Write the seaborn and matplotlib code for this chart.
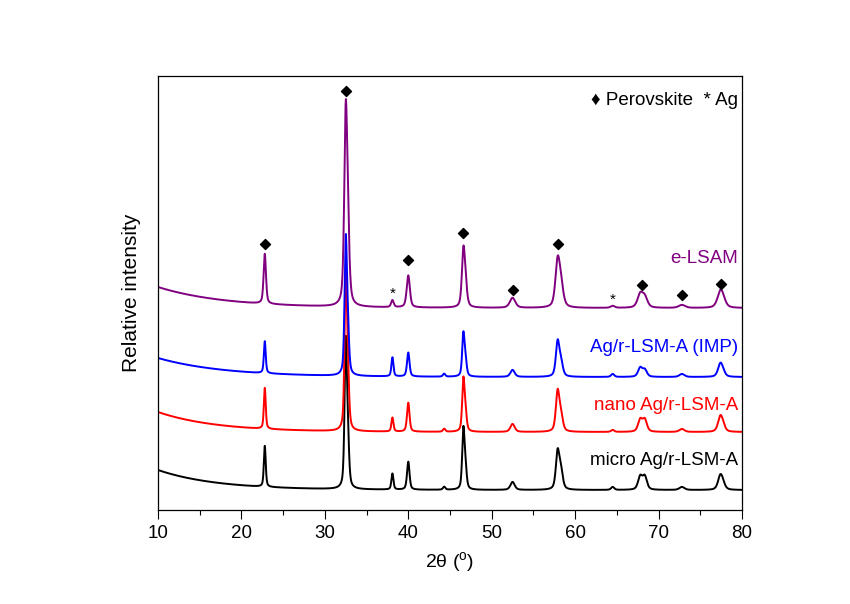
import numpy as np
import pandas as pd
import matplotlib
matplotlib.use("Agg")
import matplotlib.pyplot as plt
from matplotlib.ticker import MultipleLocator
import seaborn as sns

# ---- data ----
samples = ["micro Ag/r-LSM-A", "nano Ag/r-LSM-A", "Ag/r-LSM-A (IMP)", "e-LSAM"]
colors = ["#000000", "#ff0000", "#0000ff", "#800080"]

peak_pos = [22.8, 32.5, 32.75, 38.1, 40.0, 44.3, 46.6, 46.85, 52.5, 57.9, 58.3,
            64.5, 67.8, 68.35, 72.8, 77.4, 77.7]
peak_fwhm = [0.24, 0.3, 0.32, 0.26, 0.32, 0.3, 0.3, 0.32, 0.55, 0.45, 0.48,
             0.4, 0.55, 0.55, 0.65, 0.6, 0.6]

h_micro = [41, 140, 45, 16, 28, 3, 58, 20, 8, 37, 18, 3, 13, 13, 3, 13, 5]
h_nano = [41, 150, 50, 14, 29, 3, 50, 18, 8, 39, 16, 2, 12, 12, 3, 14, 5]
h_imp = [32, 130, 40, 19, 24, 3, 41, 15, 7, 34, 14, 3, 9, 7, 3, 12, 4]
h_elsam = [50, 180, 60, 7, 32, 0, 53, 20, 10, 44, 20, 2, 13, 10, 3, 14, 6]
heights = [h_micro, h_nano, h_imp, h_elsam]

base_offset = [20, 78, 133, 202]
base_amp = [20, 20, 19, 21]
base_decay = [7, 7, 8, 8]
width_scale = [1.1, 1.1, 1.1, 1.4]

label_y = [50, 105, 163, 252]

diamond_x = [22.8, 32.5, 40.0, 46.6, 52.5, 58.0, 68.0, 72.8, 77.5]
diamond_y = [266, 419, 250, 277, 220, 266, 225, 215, 226]
ag_x = [38.1, 64.5]
ag_y = [216, 210]

# ---- build profiles from the peak tables ----
x = np.arange(10, 80.001, 0.02)


def profile(i):
    y = base_offset[i] + base_amp[i] * np.exp(-(x - 10) / base_decay[i])
    for p, w, h in zip(peak_pos, peak_fwhm, heights[i]):
        g = w * width_scale[i] / 2
        lor = 1 / (1 + ((x - p) / g) ** 2)
        gau = np.exp(-np.log(2) * ((x - p) / g) ** 2)
        y = y + h * (0.5 * lor + 0.5 * gau)
    return y


frames = [pd.DataFrame({"two_theta": x, "intensity": profile(i), "sample": s})
          for i, s in enumerate(samples)]
df = pd.concat(frames, ignore_index=True)

# ---- plot ----
sns.set_theme(style="white")
plt.rcParams["font.family"] = ["Liberation Sans", "DejaVu Sans"]
plt.rcParams["mathtext.fontset"] = "custom"
plt.rcParams["mathtext.rm"] = "Liberation Sans"
plt.rcParams["text.color"] = "black"
plt.rcParams["axes.labelcolor"] = "black"
plt.rcParams["xtick.color"] = "black"
plt.rcParams["xtick.labelcolor"] = "black"

fig = plt.figure(figsize=(8.5, 6.04), dpi=100)
ax = fig.add_axes([0.1859, 0.1556, 0.687, 0.7185])

for i, s in enumerate(samples):
    sns.lineplot(data=df[df["sample"] == s], x="two_theta", y="intensity",
                 color=colors[i], linewidth=1.4, estimator=None, ax=ax,
                 legend=False)
    ax.text(79.5, label_y[i], s, color=colors[i], fontsize=13.5,
            ha="right", va="center")

ax.scatter(diamond_x, diamond_y, marker="D", s=26, color="black", zorder=5)
for xx, yy in zip(ag_x, ag_y):
    ax.text(xx, yy, "*", fontsize=11, ha="center", va="center", color="black")

ax.text(79.5, 410, "\u2666 Perovskite  * Ag", fontsize=13.5, ha="right",
        va="center", color="black")

ax.set_xlim(10, 80)
ax.set_ylim(0, 434)
ax.set_yticks([])
ax.xaxis.set_major_locator(MultipleLocator(10))
ax.xaxis.set_minor_locator(MultipleLocator(5))
ax.tick_params(axis="x", which="major", direction="out", length=6.5,
               width=0.8, labelsize=13.5, bottom=True, top=False,
               color="black", labelcolor="black", pad=4)
ax.tick_params(axis="x", which="minor", direction="out", length=3.5,
               width=0.8, bottom=True, top=False, color="black")
for sp in ax.spines.values():
    sp.set_color("black")
    sp.set_linewidth(0.9)

ax.set_xlabel("2\u03b8 ($^{\\mathregular{o}}$)", fontsize=14, labelpad=6,
              color="black")
ax.set_ylabel("Relative intensity", fontsize=15, labelpad=12, color="black")

fig.savefig("out.png", dpi=100, facecolor="white")
